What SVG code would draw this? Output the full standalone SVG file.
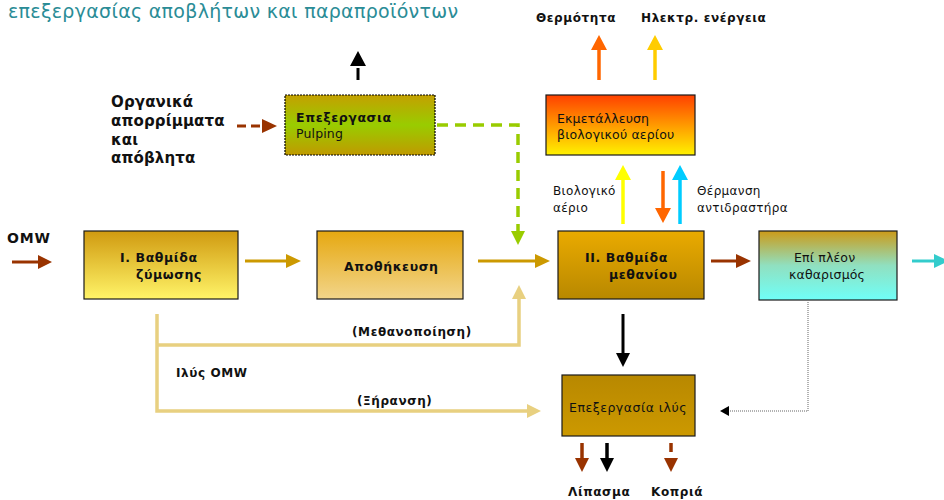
<svg xmlns="http://www.w3.org/2000/svg" width="944" height="500" viewBox="0 0 944 500">
<style>
text{font-family:"DejaVu Sans","Liberation Sans",sans-serif;fill:#111;}
.b{font-weight:bold;font-size:12.5px;letter-spacing:0.6px;}
.n{font-size:12.5px;letter-spacing:0.15px;}
.s{font-size:12px;letter-spacing:0.35px;}
.lab{font-weight:bold;font-size:12px;letter-spacing:0.6px;}
.org{font-weight:bold;font-size:15px;letter-spacing:0.15px;}
.box{stroke:#1a1a1a;stroke-width:1.2;}
.ln{fill:none;}
</style>
<defs>
<linearGradient id="gI" x1="0" y1="0" x2="0" y2="1"><stop offset="0" stop-color="#d09a10"/><stop offset="1" stop-color="#fff468"/></linearGradient>
<linearGradient id="gA" x1="0" y1="0" x2="0" y2="1"><stop offset="0" stop-color="#e6a810"/><stop offset="1" stop-color="#f2d58a"/></linearGradient>
<linearGradient id="gII" x1="0" y1="0" x2="0" y2="1"><stop offset="0" stop-color="#eaaa00"/><stop offset="1" stop-color="#b88800"/></linearGradient>
<linearGradient id="gK" x1="0" y1="0" x2="0" y2="1"><stop offset="0" stop-color="#cc9a18"/><stop offset="0.5" stop-color="#90e0c0"/><stop offset="1" stop-color="#6ffff8"/></linearGradient>
<linearGradient id="gE" x1="0" y1="0" x2="0" y2="1"><stop offset="0" stop-color="#ff4000"/><stop offset="1" stop-color="#fff200"/></linearGradient>
<linearGradient id="gP" x1="0" y1="0" x2="0" y2="1"><stop offset="0" stop-color="#c4a000"/><stop offset="0.5" stop-color="#99cc00"/><stop offset="1" stop-color="#c09a00"/></linearGradient>
<linearGradient id="gS" x1="0" y1="0" x2="0" y2="1"><stop offset="0" stop-color="#b88800"/><stop offset="1" stop-color="#cc9900"/></linearGradient>
</defs>

<text x="8" y="18" style="font-size:19px;letter-spacing:0.3px;fill:#2a8c96;">επεξεργασίας αποβλήτων και παραπροϊόντων</text>

<g id="connectors">
  <line x1="12" y1="262" x2="40" y2="262" stroke="#993300" stroke-width="3"/>
  <polygon points="38,255 52,262 38,269" fill="#993300"/>
  <line x1="245" y1="261" x2="288" y2="261" stroke="#cc9900" stroke-width="3"/>
  <polygon points="286,254 301,261 286,268" fill="#cc9900"/>
  <line x1="478" y1="261" x2="537" y2="261" stroke="#cc9900" stroke-width="3"/>
  <polygon points="535,254 550,261 535,268" fill="#cc9900"/>
  <polyline points="437,125 518,125 518,232" class="ln" stroke="#99cc00" stroke-width="3.5" stroke-dasharray="11,7"/>
  <polygon points="511,231 525,231 518,245" fill="#99cc00"/>
  <polyline points="157,314 157,411 528,411" class="ln" stroke="#e8d080" stroke-width="3.5"/>
  <polygon points="527,404 541,411 527,418" fill="#e8d080"/>
  <polyline points="157,345 519,345 519,298" class="ln" stroke="#e8d080" stroke-width="3.5"/>
  <polygon points="512,299 526,299 519,285" fill="#e8d080"/>
  <line x1="623" y1="314" x2="623" y2="355" stroke="#000" stroke-width="3"/>
  <polygon points="616,353 630,353 623,367" fill="#000"/>
  <line x1="711" y1="261" x2="738" y2="261" stroke="#993300" stroke-width="3"/>
  <polygon points="736,254 751,261 736,268" fill="#993300"/>
  <line x1="912" y1="261" x2="936" y2="261" stroke="#33cccc" stroke-width="3"/>
  <polygon points="934,254 949,261 934,268" fill="#33cccc"/>
  <polyline points="808,302 808,411 728,411" class="ln" stroke="#999" stroke-width="1.5" stroke-dasharray="1,1"/>
  <polygon points="729,406 720,411 729,416" fill="#000"/>
  <line x1="358" y1="68" x2="358" y2="80" stroke="#000" stroke-width="3"/>
  <polygon points="350,66 366,66 358,51" fill="#000"/>
  <line x1="237" y1="126" x2="262" y2="126" stroke="#993300" stroke-width="3" stroke-dasharray="9,5"/>
  <polygon points="262,119 277,126 262,133" fill="#993300"/>
  <line x1="599" y1="80" x2="599" y2="48" stroke="#ff6600" stroke-width="3.5"/>
  <polygon points="591,50 607,50 599,35" fill="#ff6600"/>
  <line x1="655" y1="80" x2="655" y2="48" stroke="#ffcc00" stroke-width="3.5"/>
  <polygon points="647,50 663,50 655,35" fill="#ffcc00"/>
  <line x1="623" y1="224" x2="623" y2="178" stroke="#ffff00" stroke-width="3.5"/>
  <polygon points="615,180 631,180 623,165" fill="#ffff00"/>
  <line x1="663" y1="171" x2="663" y2="210" stroke="#ff6600" stroke-width="3.5"/>
  <polygon points="655,208 671,208 663,223" fill="#ff6600"/>
  <line x1="680" y1="224" x2="680" y2="178" stroke="#00ccff" stroke-width="3.5"/>
  <polygon points="672,180 688,180 680,165" fill="#00ccff"/>
  <line x1="582" y1="443" x2="582" y2="460" stroke="#993300" stroke-width="3.5"/>
  <polygon points="575,458 589,458 582,472" fill="#993300"/>
  <line x1="607" y1="443" x2="607" y2="460" stroke="#000" stroke-width="3.5"/>
  <polygon points="600,458 614,458 607,472" fill="#000"/>
  <line x1="671" y1="443" x2="671" y2="452" stroke="#993300" stroke-width="3.5"/>
  <polygon points="664,458 678,458 671,472" fill="#993300"/>
</g>

<g id="labels">
  <text x="7" y="243" class="lab" style="font-size:14px;letter-spacing:0.8px;">OMW</text>
  <text x="111" y="107" class="org">Οργανικά</text>
  <text x="111" y="126" class="org">απορρίμματα</text>
  <text x="111" y="145" class="org">και</text>
  <text x="111" y="163" class="org">απόβλητα</text>
  <text x="536" y="22" class="lab">Θερμότητα</text>
  <text x="641" y="22" class="lab">Ηλεκτρ. ενέργεια</text>
  <text x="553" y="195" class="s">Βιολογικό</text>
  <text x="553" y="212" class="s">αέριο</text>
  <text x="697" y="195" class="s">Θέρμανση</text>
  <text x="697" y="212" class="s">αντιδραστήρα</text>
  <text x="352" y="336" class="lab">(Μεθανοποίηση)</text>
  <text x="176" y="377" class="lab">Ιλύς OMW</text>
  <text x="357" y="405" class="lab">(Ξήρανση)</text>
  <text x="568" y="496" class="lab">Λίπασμα</text>
  <text x="651" y="496" class="lab">Κοπριά</text>
</g>

<g id="stage1">
  <rect x="84" y="231" width="154" height="68" fill="url(#gI)" class="box"/>
  <text x="120" y="262" class="b">I. Βαθμίδα</text>
  <text x="136" y="279" class="b">ζύμωσης</text>
</g>
<g id="storage">
  <rect x="317" y="231" width="146" height="68" fill="url(#gA)" class="box"/>
  <text x="344" y="271" class="b">Αποθήκευση</text>
</g>
<g id="stage2">
  <rect x="558" y="231" width="146" height="68" fill="url(#gII)" class="box"/>
  <text x="585" y="262" class="b">ΙΙ. Βαθμίδα</text>
  <text x="609" y="279" class="b">μεθανίου</text>
</g>
<g id="purification">
  <rect x="759" y="231" width="138" height="69" fill="url(#gK)" class="box"/>
  <text x="794" y="262" class="n">Επί πλέον</text>
  <text x="789" y="279" class="n">καθαρισμός</text>
</g>
<g id="biogas">
  <rect x="546" y="95" width="149" height="60" fill="url(#gE)" class="box"/>
  <text x="557" y="123" class="n">Εκμετάλλευση</text>
  <text x="557" y="139" class="n">βιολογικού αερίου</text>
</g>
<g id="pulping">
  <rect x="285" y="95" width="150" height="60" fill="url(#gP)" stroke="#000" stroke-width="1.2" stroke-dasharray="2,1"/>
  <text x="296" y="122" class="b">Επεξεργασια</text>
  <text x="296" y="138" class="n">Pulping</text>
</g>
<g id="sludge">
  <rect x="562" y="375" width="133" height="61" fill="url(#gS)" class="box"/>
  <text x="569" y="412" class="n" style="letter-spacing:0.5px;">Επεξεργασία ιλύς</text>
</g>
</svg>
